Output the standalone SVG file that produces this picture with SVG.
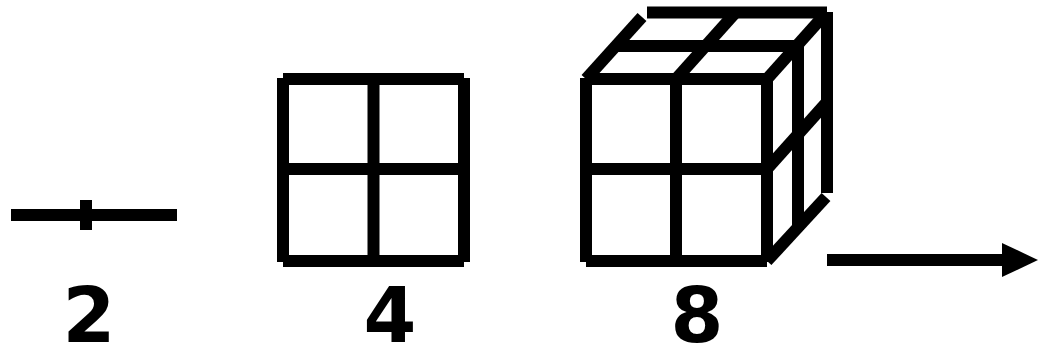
<svg xmlns="http://www.w3.org/2000/svg" width="1049" height="353" viewBox="0 0 1049 353">
<style>
.l{stroke:#000;stroke-width:12;fill:none;stroke-linecap:butt}
.t{font-family:"DejaVu Sans",sans-serif;font-weight:bold;font-size:76px;text-anchor:middle;fill:#000}
</style>
<rect width="1049" height="353" fill="#fff"/>
<g id="line2">
<line class="l" x1="11" y1="215" x2="177" y2="215"/>
<line class="l" x1="86" y1="200" x2="86" y2="230"/>
<text class="t" x="89" y="342">2</text>
</g>
<g id="square4">
<line class="l" x1="283" y1="79" x2="464" y2="79"/>
<line class="l" x1="283" y1="169" x2="464" y2="169"/>
<line class="l" x1="283" y1="261" x2="464" y2="261"/>
<line class="l" x1="283" y1="78" x2="283" y2="262"/>
<line class="l" x1="373.5" y1="78" x2="373.5" y2="262"/>
<line class="l" x1="464" y1="78" x2="464" y2="262"/>
<text class="t" x="390" y="342">4</text>
</g>
<g id="cube8">
<line class="l" x1="586" y1="79" x2="767" y2="79"/>
<line class="l" x1="586" y1="169" x2="767" y2="169"/>
<line class="l" x1="586" y1="261" x2="767" y2="261"/>
<line class="l" x1="586" y1="78" x2="586" y2="262"/>
<line class="l" x1="676" y1="78" x2="676" y2="262"/>
<line class="l" x1="767" y1="78" x2="767" y2="262"/>
<line class="l" x1="616" y1="46" x2="797" y2="46"/>
<line class="l" x1="647" y1="12.5" x2="827" y2="12.5"/>
<line class="l" x1="586" y1="79" x2="642" y2="17"/>
<line class="l" x1="676" y1="79" x2="736" y2="12"/>
<line class="l" x1="767" y1="79" x2="827" y2="12"/>
<line class="l" x1="767" y1="169" x2="827" y2="102"/>
<line class="l" x1="767" y1="261" x2="826" y2="197"/>
<line class="l" x1="798" y1="46" x2="798" y2="230"/>
<line class="l" x1="827" y1="12" x2="827" y2="193"/>
<text class="t" x="697" y="342">8</text>
</g>
<g id="connectors">
<line class="l" x1="827" y1="260" x2="1004" y2="260"/>
<polygon points="1002,243 1038,260 1002,277" fill="#000"/>
</g>
</svg>
